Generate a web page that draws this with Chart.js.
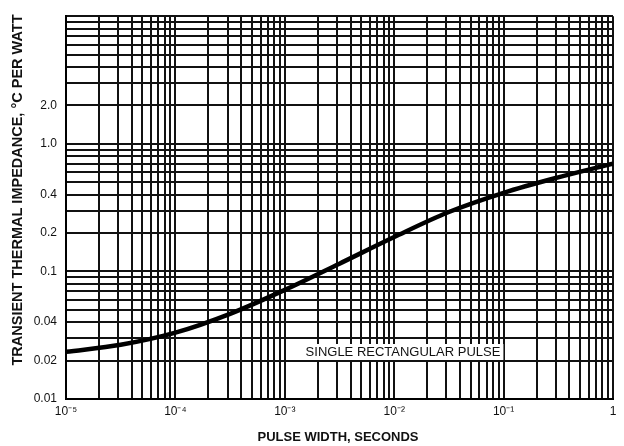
<!DOCTYPE html>
<html>
<head>
<meta charset="utf-8">
<script src="https://cdn.jsdelivr.net/npm/chart.js@4.4.1/dist/chart.umd.min.js"></script>
<style>
html,body{margin:0;padding:0;background:#fff;}
#wrap{width:624px;height:446px;position:relative;}
</style>
</head>
<body>
<div id="wrap"><canvas id="c" width="624" height="446"></canvas></div>
<script>
// Data (half-decade readings)
const pulseWidth = [1e-5, 3.16e-5, 1e-4, 3.16e-4, 1e-3, 3.16e-3, 1e-2, 3.16e-2, 1e-1, 3.16e-1, 1];
const impedance  = [0.0234, 0.0266, 0.0331, 0.0465, 0.0716, 0.115, 0.186, 0.292, 0.413, 0.546, 0.70];

const xDecadeLabels = {'-5':'10⁻⁵','-4':'10⁻⁴','-3':'10⁻³','-2':'10⁻²','-1':'10⁻¹','0':'1'};
const yTickLabels = {'0.01':'0.01','0.02':'0.02','0.04':'0.04','0.1':'0.1','0.2':'0.2','0.4':'0.4','1':'1.0','2':'2.0'};
const xTitle = 'PULSE WIDTH, SECONDS';
const yTitle = 'TRANSIENT THERMAL IMPEDANCE, °C PER WATT';
const noteText = 'SINGLE RECTANGULAR PULSE';

function logTicks(minExp, maxExp) {
  const t = [];
  for (let e = minExp; e < maxExp; e++) {
    for (let m = 1; m <= 9; m++) t.push({value: parseFloat((m * Math.pow(10, e)).toPrecision(3))});
  }
  t.push({value: Math.pow(10, maxExp)});
  return t;
}
function key(v){ return String(parseFloat(v.toPrecision(3))); }
function decadeKey(v){
  const e = Math.log10(v);
  return Math.abs(e - Math.round(e)) < 1e-6 ? String(Math.round(e)) : null;
}

const FONT = '"Liberation Sans", Arial, sans-serif';

const extras = {
  id: 'extras',
  afterDraw(chart) {
    const ctx = chart.ctx;
    ctx.save();
    ctx.font = '13px ' + FONT;
    const tw = ctx.measureText(noteText).width;
    const cx = 403, cy = 352;
    ctx.fillStyle = '#fff';
    ctx.fillRect(cx - tw/2 - 3, cy - 8, tw + 6, 16);
    ctx.fillStyle = '#111';
    ctx.textAlign = 'center';
    ctx.textBaseline = 'middle';
    ctx.fillText(noteText, cx, cy);
    ctx.font = 'bold 13px ' + FONT;
    ctx.fillText(xTitle, 338, 437);
    ctx.font = 'bold 14.5px ' + FONT;
    ctx.translate(18, 190);
    ctx.rotate(-Math.PI/2);
    ctx.fillText(yTitle, 0, 0);
    ctx.restore();
  }
};

new Chart(document.getElementById('c'), {
  type: 'line',
  data: {
    datasets: [{
      data: pulseWidth.map((x, i) => ({x: x, y: impedance[i]})),
      borderColor: '#000',
      borderWidth: 4.5,
      pointRadius: 0,
      cubicInterpolationMode: 'monotone',
      fill: false
    }]
  },
  options: {
    responsive: false,
    animation: false,
    layout: {padding: {left: 0, top: 10, right: 11, bottom: 0}},
    plugins: {legend: {display: false}, tooltip: {enabled: false}},
    scales: {
      x: {
        type: 'logarithmic',
        min: 1e-5, max: 1,
        afterBuildTicks(s){ s.ticks = logTicks(-5, 0); },
        afterFit(s){ s.height = 47; },
        border: {color: '#000', width: 2},
        grid: {color: '#111', lineWidth: 2, drawTicks: false},
        ticks: {
          autoSkip: false, maxRotation: 0, padding: 5,
          color: '#111', font: {family: FONT, size: 12},
          callback(v){ const k = decadeKey(v); return (k !== null && xDecadeLabels[k]) || ''; }
        }
      },
      y: {
        type: 'logarithmic',
        min: 0.01, max: 10,
        afterBuildTicks(s){ s.ticks = logTicks(-2, 1); },
        afterFit(s){ s.width = 66; },
        border: {color: '#000', width: 2},
        grid: {color: '#111', lineWidth: 2, drawTicks: false},
        ticks: {
          autoSkip: false, padding: 9,
          color: '#111', font: {family: FONT, size: 12},
          callback(v){ const k = key(v); return yTickLabels[k] || ''; }
        }
      }
    }
  },
  plugins: [extras]
});
</script>
</body>
</html>
